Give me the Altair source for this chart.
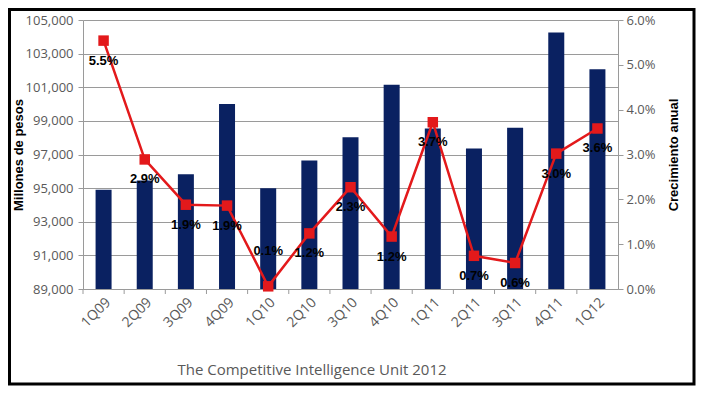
import altair as alt
import pandas as pd

quarters = ["1Q09", "2Q09", "3Q09", "4Q09", "1Q10", "2Q10", "3Q10", "4Q10",
            "1Q11", "2Q11", "3Q11", "4Q11", "1Q12"]
millones = [94900, 95450, 95830, 100000, 95000, 96650, 98030, 101150,
            98550, 97360, 98590, 104250, 102070]
crecimiento = [0.0554, 0.0289, 0.0188, 0.0186, 0.0006, 0.0124, 0.0227, 0.0117,
               0.0372, 0.0074, 0.0058, 0.0302, 0.0358]
left_ticks = [89000, 91000, 93000, 95000, 97000, 99000, 101000, 103000, 105000]
right_ticks = [0.0, 0.01, 0.02, 0.03, 0.04, 0.05, 0.06]
footer = "The Competitive Intelligence Unit 2012"

df = pd.DataFrame({"q": quarters, "v": millones, "g": crecimiento,
                   "base": [left_ticks[0]] * len(quarters)})

NAVY = "#0A2161"
RED = "#E3191B"
GRAY = "#595959"
GRID = "#9A9A9A"
LBL_FONT = "Open Sans"
TTL_FONT = "Liberation Sans"

base = alt.Chart(df)
xenc = alt.X("q:N", sort=quarters, title=None,
             scale=alt.Scale(paddingInner=0, paddingOuter=0),
             axis=alt.Axis(labelAngle=-45, ticks=False, domainColor=GRID,
                           labelColor=GRAY, labelFont=LBL_FONT, labelFontSize=14,
                           labelPadding=6))

bars = base.mark_bar(color=NAVY, size=16).encode(
    x=xenc,
    y=alt.Y("v:Q", scale=alt.Scale(domain=[left_ticks[0], left_ticks[-1]], zero=False),
            title="Millones de pesos",
            axis=alt.Axis(values=left_ticks, format=",d", grid=True, gridColor=GRID,
                          domainColor=GRID, tickColor=GRID, tickSize=5,
                          labelColor=GRAY, labelFont=LBL_FONT, labelFontSize=13,
                          labelPadding=5, titleFont=TTL_FONT, titleFontSize=13,
                          titleFontWeight="bold", titleColor="black", titlePadding=0)),
    y2="base",
)

xticks = base.mark_rule(color=GRID).encode(
    x=alt.X("q:N", sort=quarters, bandPosition=0),
    y=alt.value(269), y2=alt.value(274),
)

border = alt.Chart(pd.DataFrame({"a": [0]})).mark_rect(
    fill=None, stroke="black", strokeWidth=3
).encode(x=alt.value(-73.5), x2=alt.value(611), y=alt.value(-10.5), y2=alt.value(364))

foot = alt.Chart(pd.DataFrame({"t": [footer]})).mark_text(
    font=LBL_FONT, fontSize=15, color=GRAY, align="center", baseline="middle"
).encode(text="t:N", x=alt.value(229), y=alt.value(350))

yr = alt.Y("g:Q", scale=alt.Scale(domain=[right_ticks[0], right_ticks[-1]]),
           title="Crecimiento anual",
           axis=alt.Axis(orient="right", values=right_ticks, format=".1%", grid=False,
                         domainColor=GRID, tickColor=GRID, tickSize=5,
                         labelColor=GRAY, labelFont=LBL_FONT, labelFontSize=13,
                         labelPadding=3, titleFont=TTL_FONT, titleFontSize=13,
                         titleFontWeight="bold", titleColor="black", titlePadding=12,
                         titleAngle=270, titleBaseline="top"))

line = base.mark_line(color=RED, strokeWidth=2.5).encode(x=xenc, y=yr)
pts = base.mark_point(shape="square", filled=True, size=110, color=RED, opacity=1).encode(
    x=xenc, y="g:Q")
labels_below = base.transform_filter("datum.g >= 0.005").mark_text(
    dy=20, font=TTL_FONT, fontSize=13, fontWeight="bold", color="black").encode(
    x=xenc, y="g:Q", text=alt.Text("g:Q", format=".1%"))
labels_above = base.transform_filter("datum.g < 0.005").mark_text(
    dy=-35, font=TTL_FONT, fontSize=13, fontWeight="bold", color="black").encode(
    x=xenc, y="g:Q", text=alt.Text("g:Q", format=".1%"))

chart = alt.layer(
    alt.layer(bars, xticks, border, foot),
    alt.layer(line, pts, labels_below, labels_above),
).resolve_scale(y="independent").properties(
    width=535, height=269,
    autosize=alt.AutoSizeParams(type="none"),
    padding={"left": 75, "top": 12, "right": 78, "bottom": 97},
    background="white",
).configure_view(stroke=None)

chart.save("out.html", embed_options={"renderer": "svg", "actions": False})
